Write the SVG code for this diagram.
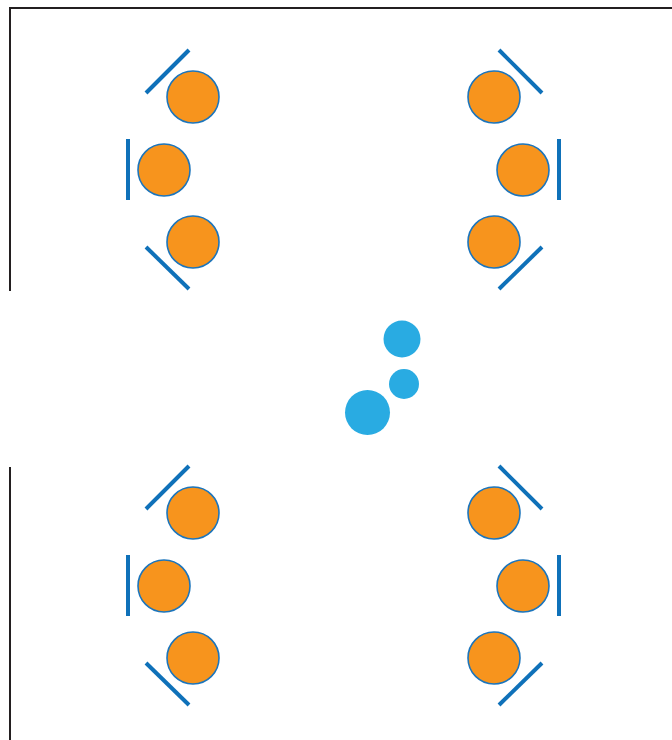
<svg xmlns="http://www.w3.org/2000/svg" width="672" height="740" viewBox="0 0 672 740">
<style>
.seat{fill:#F7941D;stroke:#1C75BC;stroke-width:1.6}
.bar{stroke:#0F71B9;stroke-width:4;stroke-linecap:butt}
.dot{fill:#29ABE2}
.frame{stroke:#231F20;stroke-width:2;fill:none}
</style>
<rect width="672" height="740" fill="#fff"/>
<g id="frame">
<path class="frame" d="M10,291 V8 H672"/>
<path class="frame" d="M10,467 V740"/>
</g>
<g id="group-top-left">
<line class="bar" x1="146" y1="93" x2="189" y2="50"/>
<circle class="seat" cx="193" cy="97" r="26"/>
<line class="bar" x1="128" y1="139" x2="128" y2="200"/>
<circle class="seat" cx="164" cy="170" r="26"/>
<line class="bar" x1="146" y1="247" x2="189" y2="289"/>
<circle class="seat" cx="193" cy="242" r="26"/>
</g>
<g id="group-top-right">
<line class="bar" x1="499" y1="50" x2="542" y2="93"/>
<circle class="seat" cx="494" cy="97" r="26"/>
<line class="bar" x1="559" y1="139" x2="559" y2="200"/>
<circle class="seat" cx="523" cy="170" r="26"/>
<line class="bar" x1="499" y1="289" x2="542" y2="247"/>
<circle class="seat" cx="494" cy="242" r="26"/>
</g>
<g id="group-bottom-left" transform="translate(0,416)">
<line class="bar" x1="146" y1="93" x2="189" y2="50"/>
<circle class="seat" cx="193" cy="97" r="26"/>
<line class="bar" x1="128" y1="139" x2="128" y2="200"/>
<circle class="seat" cx="164" cy="170" r="26"/>
<line class="bar" x1="146" y1="247" x2="189" y2="289"/>
<circle class="seat" cx="193" cy="242" r="26"/>
</g>
<g id="group-bottom-right" transform="translate(0,416)">
<line class="bar" x1="499" y1="50" x2="542" y2="93"/>
<circle class="seat" cx="494" cy="97" r="26"/>
<line class="bar" x1="559" y1="139" x2="559" y2="200"/>
<circle class="seat" cx="523" cy="170" r="26"/>
<line class="bar" x1="499" y1="289" x2="542" y2="247"/>
<circle class="seat" cx="494" cy="242" r="26"/>
</g>
<g id="dots">
<circle class="dot" cx="402" cy="339" r="18.5"/>
<circle class="dot" cx="404" cy="384" r="15"/>
<circle class="dot" cx="367.5" cy="412.5" r="22.5"/>
</g>
</svg>
